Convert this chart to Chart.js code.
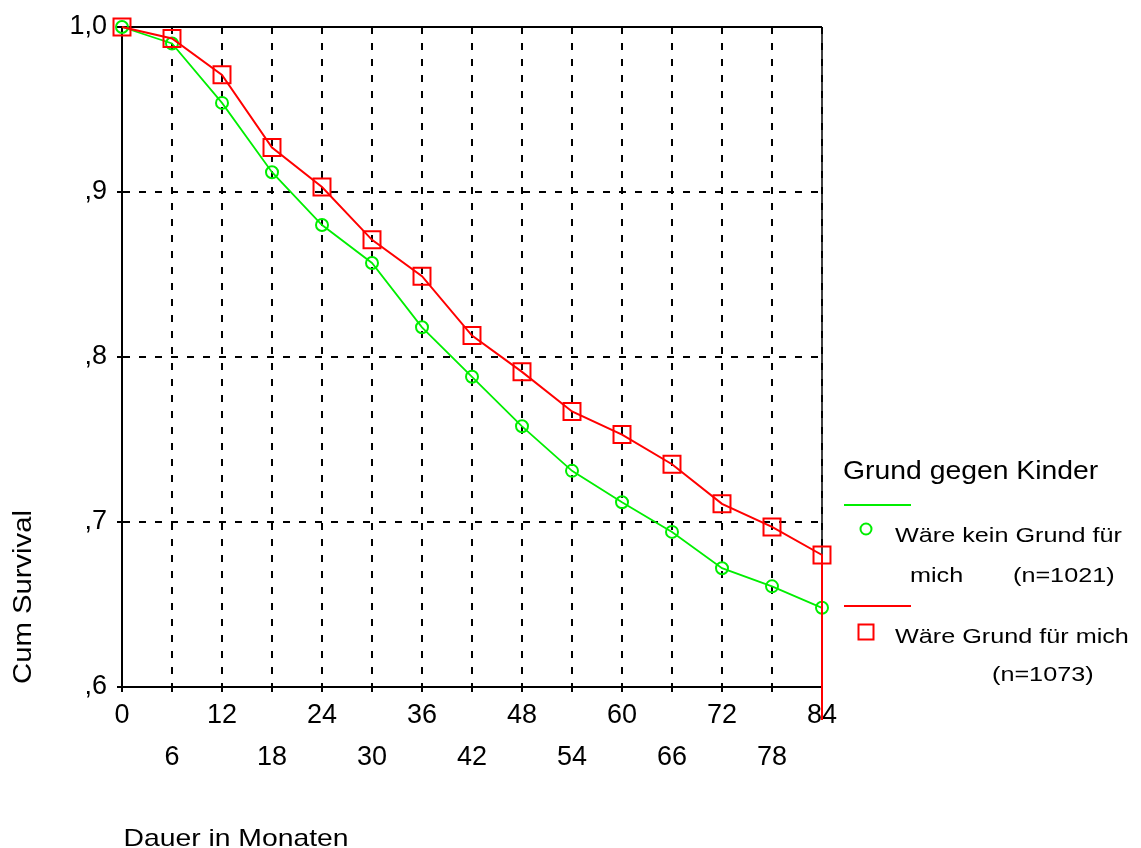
<!DOCTYPE html>
<html>
<head>
<meta charset="utf-8">
<script src="https://cdn.jsdelivr.net/npm/chart.js@4.4.1/dist/chart.umd.min.js"></script>
<style>
  html, body { margin: 0; padding: 0; background: #fff; }
  #wrap { width: 1141px; height: 848px; }
</style>
</head>
<body>
<div id="wrap"><canvas id="chart" width="1141" height="848"></canvas></div>
<script>
// Months (x axis) and cumulative survival per group
const months = [0, 6, 12, 18, 24, 30, 36, 42, 48, 54, 60, 66, 72, 78, 84];
const keinGrund = [1.000, 0.990, 0.954, 0.912, 0.880, 0.857, 0.818, 0.788, 0.758, 0.731, 0.712, 0.694, 0.672, 0.661, 0.648];
const grund = [1.000, 0.993, 0.971, 0.927, 0.903, 0.871, 0.849, 0.813, 0.791, 0.767, 0.753, 0.735, 0.711, 0.697, 0.680];
const yTickValues = [0.6, 0.7, 0.8, 0.9, 1.0];
const yTickLabels = [',6', ',7', ',8', ',9', '1,0'];

const FONT = "Arial, 'Liberation Sans', sans-serif";
const GREEN = '#00ee00';
const RED = '#ff0000';

// curve plus the final drop at the last time point (survival falls off below the axis)
const toPoints = (vals) => months.map((m, i) => ({ x: m, y: vals[i] }))
  .concat([{ x: months[months.length - 1], y: 0 }]);

function drawText(ctx, text, x, y, size, sx, align) {
  ctx.save();
  ctx.font = size + 'px ' + FONT;
  ctx.fillStyle = '#000';
  ctx.textBaseline = 'alphabetic';
  ctx.textAlign = align || 'left';
  ctx.translate(x, y);
  ctx.scale(sx, 1);
  ctx.fillText(text, 0, 0);
  ctx.restore();
}

// solid frame on top/right, axis titles and the legend block
const extras = {
  id: 'extras',
  beforeDatasetsDraw(chart) {
    const { ctx, chartArea: a } = chart;
    ctx.save();
    ctx.strokeStyle = '#000';
    ctx.lineWidth = 2;
    ctx.beginPath();
    ctx.moveTo(a.left, a.top);
    ctx.lineTo(a.right, a.top);
    ctx.stroke();
    ctx.lineWidth = 1.5;
    ctx.beginPath();
    ctx.moveTo(a.right, a.top);
    ctx.lineTo(a.right, a.bottom);
    ctx.stroke();
    ctx.restore();
  },
  afterDraw(chart) {
    const ctx = chart.ctx;
    // axis titles
    drawText(ctx, 'Dauer in Monaten', 236, 846, 24, 1.18, 'center');
    ctx.save();
    ctx.translate(31, 597);
    ctx.rotate(-Math.PI / 2);
    drawText(ctx, 'Cum Survival', 0, 0, 25, 1.17, 'center');
    ctx.restore();

    // legend
    drawText(ctx, 'Grund gegen Kinder', 843, 479, 26, 1.09, 'left');
    ctx.save();
    ctx.lineWidth = 2;
    ctx.strokeStyle = GREEN;
    ctx.beginPath();
    ctx.moveTo(844, 505); ctx.lineTo(911, 505);
    ctx.stroke();
    ctx.beginPath();
    ctx.arc(866, 529, 5.5, 0, Math.PI * 2);
    ctx.stroke();
    ctx.strokeStyle = RED;
    ctx.beginPath();
    ctx.moveTo(844, 606); ctx.lineTo(911, 606);
    ctx.stroke();
    ctx.strokeRect(858.5, 624.5, 15, 15);
    ctx.restore();
    drawText(ctx, 'Wäre kein Grund für', 895, 542, 21, 1.2, 'left');
    drawText(ctx, 'mich', 910, 582, 21, 1.2, 'left');
    drawText(ctx, '(n=1021)', 1013, 582, 21, 1.2, 'left');
    drawText(ctx, 'Wäre Grund für mich', 895, 643, 21, 1.2, 'left');
    drawText(ctx, '(n=1073)', 992, 681, 21, 1.2, 'left');
  }
};

new Chart(document.getElementById('chart'), {
  type: 'line',
  data: {
    datasets: [
      {
        label: 'Wäre kein Grund für mich (n=1021)',
        data: toPoints(keinGrund),
        order: 2,
        borderColor: GREEN,
        backgroundColor: 'transparent',
        borderWidth: 1.8,
        pointStyle: 'circle',
        pointRadius: (c) => (c.dataIndex === months.length ? 0 : 6),
        pointBorderWidth: 2,
        pointBorderColor: GREEN,
        pointBackgroundColor: 'transparent',
        tension: 0,
        clip: { left: 20, top: 20, right: 20, bottom: 33 }
      },
      {
        label: 'Wäre Grund für mich (n=1073)',
        data: toPoints(grund),
        order: 1,
        borderColor: RED,
        backgroundColor: 'transparent',
        borderWidth: 2,
        pointStyle: 'rect',
        pointRadius: (c) => (c.dataIndex === months.length ? 0 : 12),
        pointBorderWidth: 2,
        pointBorderColor: RED,
        pointBackgroundColor: 'transparent',
        tension: 0,
        clip: { left: 20, top: 20, right: 20, bottom: 33 }
      }
    ]
  },
  options: {
    responsive: false,
    animation: false,
    events: [],
    layout: { padding: { top: 27, right: 319, left: 0, bottom: 0 } },
    plugins: {
      legend: { display: false },
      tooltip: { enabled: false },
      title: { display: false }
    },
    scales: {
      x: {
        type: 'linear',
        min: 0,
        max: 84,
        afterFit: (s) => { s.height = 161; },
        ticks: {
          stepSize: 6,
          autoSkip: false,
          maxRotation: 0,
          padding: 3,
          color: '#000',
          font: { family: FONT, size: 27, lineHeight: 1.556 },
          callback: (v) => (v % 12 === 0 ? String(v) : ['', String(v)])
        },
        grid: {
          color: '#000',
          lineWidth: 2,
          tickLength: 5,
          tickColor: '#000',
          tickWidth: 2
        },
        border: { display: true, color: '#000', width: 2, dash: [7, 9] }
      },
      y: {
        min: 0.6,
        max: 1.0,
        afterFit: (s) => { s.width = 122; },
        afterBuildTicks: (s) => { s.ticks = yTickValues.map((v) => ({ value: v })); },
        ticks: {
          padding: 10,
          color: '#000',
          font: { family: FONT, size: 27 },
          callback: (v) => yTickLabels[yTickValues.findIndex((t) => Math.abs(t - v) < 1e-6)]
        },
        grid: {
          color: '#000',
          lineWidth: 2,
          tickLength: 5,
          tickColor: '#000',
          tickWidth: 2
        },
        border: { display: true, color: '#000', width: 2, dash: [7, 9] }
      }
    }
  },
  plugins: [extras]
});
</script>
</body>
</html>
